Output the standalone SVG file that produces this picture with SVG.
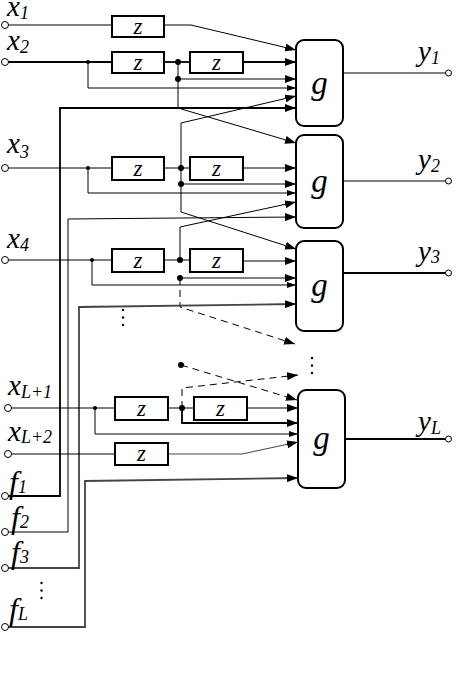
<svg xmlns="http://www.w3.org/2000/svg" width="459" height="678" viewBox="0 0 459 678">
<style>
.l{fill:none;stroke:#000;stroke-width:1}
.b{stroke-width:1.8}
.d{stroke-dasharray:7 5}
.gr{stroke:#444}
.z{fill:#fff;stroke:#000;stroke-width:2}
.g{fill:#fff;stroke:#000;stroke-width:2}
.tz{font-size:23px;text-anchor:middle}
.tg{font-size:33px;text-anchor:middle}
.big{font-size:29px}
.sub{font-size:18px}
.tf{font-size:32px}
.term{fill:#fff;stroke:#000;stroke-width:1}
.dot{fill:#000}
</style>
<defs>
<marker id="a" markerWidth="11" markerHeight="8" refX="11" refY="4" orient="auto" markerUnits="userSpaceOnUse"><path d="M0,0 L11,4 L0,8 z" fill="#000"/></marker>
<marker id="s" markerWidth="9" markerHeight="6" refX="9" refY="3" orient="auto" markerUnits="userSpaceOnUse"><path d="M0,0 L9,3 L0,6 z" fill="#000"/></marker>
</defs>

<g id="connectors">
<line class="l" x1="8.5" y1="25" x2="112" y2="25"/>
<polyline class="l" points="164,25 191,25 296,50" marker-end="url(#a)"/>
<line class="l b" x1="8.5" y1="62" x2="112" y2="62"/>
<line class="l b" x1="164" y1="62" x2="190" y2="62"/>
<line class="l b" x1="243" y1="62" x2="296" y2="62" marker-end="url(#a)"/>
<polyline class="l" points="88,62 88,88 296,88" marker-end="url(#s)"/>
<line class="l" x1="178" y1="79" x2="296" y2="79" marker-end="url(#a)"/>
<polyline class="l" points="178,62 178,108 296,143" marker-end="url(#a)"/>
<polyline class="l b" points="8.5,496 60,496 60,108 296,108" marker-end="url(#a)"/>
<line class="l" x1="8.5" y1="168" x2="112" y2="168"/>
<line class="l" x1="164" y1="168" x2="190" y2="168"/>
<line class="l" x1="243" y1="168" x2="296" y2="168" marker-end="url(#a)"/>
<line class="l" x1="181" y1="184" x2="296" y2="184" marker-end="url(#a)"/>
<polyline class="l" points="88,168 88,193 296,193" marker-end="url(#s)"/>
<polyline class="l" points="181,168 181,123 296,96" marker-end="url(#a)"/>
<polyline class="l" points="181,168 181,212 296,249" marker-end="url(#a)"/>
<polyline class="l" points="8.5,532 68,532 68,219 296,217" marker-end="url(#a)"/>
<line class="l" x1="8.5" y1="260" x2="112" y2="260"/>
<line class="l" x1="164" y1="260" x2="190" y2="260"/>
<line class="l" x1="243" y1="261" x2="296" y2="261" marker-end="url(#a)"/>
<line class="l" x1="180" y1="278" x2="296" y2="278" marker-end="url(#a)"/>
<polyline class="l" points="92,260 92,285 296,285" marker-end="url(#s)"/>
<polyline class="l" points="180,260 180,227 296,202" marker-end="url(#a)"/>
<polyline class="l d" points="180,278 180,307 295,344" marker-end="url(#a)"/>
<polyline class="l b gr" points="8.5,568 79,568 79,307 296,304" marker-end="url(#a)"/>
<line class="l d" x1="181" y1="365" x2="297" y2="400" marker-end="url(#a)"/>
<line class="l" x1="11.5" y1="408" x2="115" y2="408"/>
<line class="l" x1="168" y1="408" x2="194" y2="408"/>
<line class="l" x1="247" y1="408" x2="298" y2="408" marker-end="url(#a)"/>
<polyline class="l b" points="182,408 182,423 298,423" marker-end="url(#a)"/>
<polyline class="l" points="95,408 95,434 298,434" marker-end="url(#s)"/>
<polyline class="l d" points="182,408 182,388 298,375" marker-end="url(#a)"/>
<line class="l" x1="11.5" y1="454" x2="115" y2="454"/>
<polyline class="l gr" points="168,454 242,454 298,442" marker-end="url(#a)"/>
<polyline class="l b gr" points="8.5,627 85,627 85,481 298,478" marker-end="url(#a)"/>
<line class="l" x1="343" y1="73" x2="445.5" y2="73"/>
<line class="l" x1="343" y1="181" x2="445.5" y2="181"/>
<line class="l b" x1="343" y1="273" x2="445.5" y2="273"/>
<line class="l b" x1="345" y1="439" x2="445.5" y2="439"/>
<circle class="dot" cx="88" cy="62" r="2"/>
<circle class="dot" cx="178" cy="62" r="3"/>
<circle class="dot" cx="178" cy="79" r="3"/>
<circle class="dot" cx="88" cy="168" r="2"/>
<circle class="dot" cx="181" cy="168" r="3"/>
<circle class="dot" cx="181" cy="184" r="3"/>
<circle class="dot" cx="92" cy="260" r="2"/>
<circle class="dot" cx="180" cy="260" r="3"/>
<circle class="dot" cx="180" cy="278" r="3"/>
<circle class="dot" cx="181" cy="365" r="3"/>
<circle class="dot" cx="95" cy="408" r="2"/>
<circle class="dot" cx="182" cy="408" r="3"/>
</g>

<g id="terminals">
<circle class="term" cx="5" cy="25" r="3.5"/>
<circle class="term" cx="5" cy="62" r="3.5"/>
<circle class="term" cx="5" cy="168" r="3.5"/>
<circle class="term" cx="5" cy="260" r="3.5"/>
<circle class="term" cx="8" cy="408" r="3.5"/>
<circle class="term" cx="8" cy="454" r="3.5"/>
<circle class="term" cx="5" cy="496" r="3.5"/>
<circle class="term" cx="5" cy="532" r="3.5"/>
<circle class="term" cx="5" cy="568" r="3.5"/>
<circle class="term" cx="5" cy="627" r="3.5"/>
<circle class="term" cx="448.5" cy="73" r="3"/>
<circle class="term" cx="448.5" cy="181" r="3"/>
<circle class="term" cx="448.5" cy="273" r="3"/>
<circle class="term" cx="448.5" cy="439" r="3"/>
</g>

<g font-family="Liberation Serif, serif" font-style="italic" fill="#000">
<g id="z-x1"><rect class="z" x="112" y="16" width="52" height="21"/><text class="tz" x="138" y="33.5">z</text></g>
<g id="z-x2a"><rect class="z" x="112" y="52" width="52" height="21"/><text class="tz" x="138" y="69.5">z</text></g>
<g id="z-x2b"><rect class="z" x="190" y="52" width="53" height="21"/><text class="tz" x="216.5" y="69.5">z</text></g>
<g id="z-x3a"><rect class="z" x="112" y="157" width="52" height="23"/><text class="tz" x="138" y="175.5">z</text></g>
<g id="z-x3b"><rect class="z" x="190" y="157" width="53" height="23"/><text class="tz" x="216.5" y="175.5">z</text></g>
<g id="z-x4a"><rect class="z" x="112" y="249" width="52" height="23"/><text class="tz" x="138" y="267.5">z</text></g>
<g id="z-x4b"><rect class="z" x="190" y="249" width="53" height="23"/><text class="tz" x="216.5" y="267.5">z</text></g>
<g id="z-xL1a"><rect class="z" x="115" y="397" width="53" height="23"/><text class="tz" x="141.5" y="415.5">z</text></g>
<g id="z-xL1b"><rect class="z" x="194" y="397" width="53" height="23"/><text class="tz" x="220.5" y="415.5">z</text></g>
<g id="z-xL2"><rect class="z" x="115" y="443" width="53" height="22"/><text class="tz" x="141.5" y="461">z</text></g>

<g id="g1"><rect class="g" x="296" y="40" width="47" height="86" rx="8"/><text class="tg" x="319.5" y="94">g</text></g>
<g id="g2"><rect class="g" x="296" y="135" width="47" height="93" rx="8"/><text class="tg" x="319.5" y="192">g</text></g>
<g id="g3"><rect class="g" x="296" y="241" width="47" height="90" rx="8"/><text class="tg" x="319.5" y="296">g</text></g>
<g id="gL"><rect class="g" x="298" y="390" width="47" height="98" rx="8"/><text class="tg" x="321.5" y="449">g</text></g>

<g id="labels">
<text class="big" x="7" y="16">x<tspan class="sub" dy="3">1</tspan></text>
<text class="big" x="7" y="50">x<tspan class="sub" dy="3">2</tspan></text>
<text class="big" x="7" y="153">x<tspan class="sub" dy="5">3</tspan></text>
<text class="big" x="7" y="248">x<tspan class="sub" dy="3">4</tspan></text>
<text class="big" x="8" y="395">x<tspan class="sub" dy="3">L+1</tspan></text>
<text class="big" x="8" y="441">x<tspan class="sub" dy="2">L+2</tspan></text>
<text class="tf" x="9" y="493">f<tspan class="sub">1</tspan></text>
<text class="tf" x="11" y="528">f<tspan class="sub">2</tspan></text>
<text class="tf" x="11" y="563">f<tspan class="sub">3</tspan></text>
<text class="tf" x="9" y="620">f<tspan class="sub">L</tspan></text>
<text class="big" x="418" y="61">y<tspan class="sub" dy="3">1</tspan></text>
<text class="big" x="418" y="169">y<tspan class="sub" dy="3">2</tspan></text>
<text class="big" x="418" y="261">y<tspan class="sub" dy="2">3</tspan></text>
<text class="big" x="418" y="431">y<tspan class="sub" dy="3">L</tspan></text>
</g>
</g>

<g id="ellipses">
<circle class="dot" cx="123" cy="310" r="1.2"/>
<circle class="dot" cx="123" cy="317.5" r="1.2"/>
<circle class="dot" cx="123" cy="325" r="1.2"/>
<circle class="dot" cx="312" cy="358" r="1.2"/>
<circle class="dot" cx="312" cy="365.5" r="1.2"/>
<circle class="dot" cx="312" cy="373" r="1.2"/>
<circle class="dot" cx="41.5" cy="583" r="1.2"/>
<circle class="dot" cx="41.5" cy="590.5" r="1.2"/>
<circle class="dot" cx="41.5" cy="598" r="1.2"/>
</g>
</svg>
